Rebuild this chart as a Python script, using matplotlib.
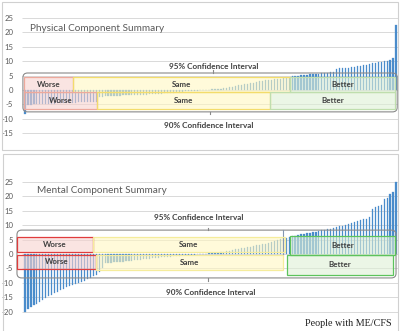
import numpy as np
import matplotlib
matplotlib.use("Agg")
import matplotlib.pyplot as plt
from matplotlib.patches import Rectangle, FancyBboxPatch

# sorted change scores, one bar per person
pcs_values = [
    -8.5,
    -5.2, -5.1, -5.0, -5.0, -4.9, -4.9, -4.8, -4.8, -4.7, -4.7, -4.6, -4.6,
    -4.5, -4.5, -4.5, -4.4, -4.4, -4.3, -4.3, -4.2, -4.2, -4.1, -4.1, -4.0,
    -2.4, -2.3, -2.2, -2.2, -2.1, -2.1, -2.0, -2.0, -1.9, -1.9, -1.8, -1.8,
    -1.8, -1.7, -1.7, -1.6, -1.6, -1.5, -1.5, -1.4, -1.4, -1.3, -1.2, -1.1,
    -1.0, -0.9, -0.8, -0.7, -0.6, -0.5, -0.4,
    -0.3, -0.2, -0.2, -0.1, -0.1, 0.1, 0.1,
    0.2, 0.3, 0.4, 0.5, 0.7, 0.8, 1.0, 1.2, 1.4, 1.6, 1.8, 2.0, 2.2, 2.4,
    2.6, 2.8, 3.0, 3.2, 3.4, 3.5,
    3.6, 3.7, 3.8, 3.9, 4.0, 4.1, 4.2,
    4.8, 4.9, 5.0, 5.1, 5.2, 5.3, 5.4, 5.5, 5.6, 5.7, 5.8, 5.9, 6.0, 6.1, 6.2,
    7.4, 7.5, 7.6, 7.7, 7.8, 7.9, 8.0, 8.2, 8.4, 8.6, 8.8, 9.0, 9.2, 9.4,
    9.6, 9.8, 10.0, 10.2, 10.5, 11.2,
    22.5,
]
mcs_values = [
    -20.0,
    -19.2, -18.5, -17.8, -17.2, -16.7, -16.0, -15.3, -14.7, -14.1, -13.6,
    -13.1, -12.6, -12.1, -11.6, -11.2, -10.8, -10.4, -10.0, -9.6, -9.2,
    -8.8, -8.4, -7.8, -7.2, -6.2, -5.0,
    -3.2, -3.1, -3.0, -2.9, -2.8, -2.7, -2.6, -2.5, -2.4, -2.3, -2.2, -2.1,
    -2.0, -1.9, -1.8, -1.7,
    -1.5, -1.4, -1.3, -1.2, -1.1, -1.0, -0.9, -0.8, -0.7, -0.6, -0.5, -0.4, -0.3,
    -0.2, -0.2, -0.1, -0.1, 0.1, 0.1, 0.2,
    0.3, 0.4, 0.5, 0.6, 0.8, 1.0, 1.2, 1.4, 1.6, 1.8, 2.0, 2.2, 2.4, 2.6,
    2.8, 3.0, 3.2, 3.4, 3.6, 3.8,
    4.2, 4.5, 4.8, 5.1, 5.4, 5.7, 6.0,
    6.2, 6.4, 6.6, 6.8, 7.0, 7.2, 7.4, 7.6, 7.8, 8.0, 8.2, 8.4, 8.6,
    8.8, 9.0, 9.3, 9.6, 9.9, 10.2, 10.5, 10.8, 11.2, 11.6,
    11.8, 12.0, 12.3, 13.0, 15.5, 16.2, 16.8, 17.0, 19.0, 19.5, 21.0, 21.5, 25.0,
]
pcs_ticks = [-15, -10, -5, 0, 5, 10, 15, 20, 25]
mcs_ticks = [-20, -15, -10, -5, 0, 5, 10, 15, 20, 25]
panel_titles = ["Physical Component Summary", "Mental Component Summary"]
ci_labels = ["95% Confidence Interval", "90% Confidence Interval"]
band_labels = ["Worse", "Same", "Better"]
footer = "People with ME/CFS"

W, H = 400, 331
FONT = "Lato"
GREY = "#595959"
BAR = "#4a8ccb"

fig = plt.figure(figsize=(W / 100, H / 100), dpi=100)
fig.patch.set_facecolor("white")


def px_axes(left, right, top, bottom):
    return fig.add_axes([left / W, 1 - bottom / H, (right - left) / W, (bottom - top) / H])


def frame(x0, y0, x1, y1):
    fig.patches.append(Rectangle((x0 / W, 1 - y1 / H), (x1 - x0) / W, (y1 - y0) / H,
                                 transform=fig.transFigure, fill=False,
                                 edgecolor="#d0d0d0", linewidth=0.8, zorder=0))


def setup(ax, values, ticks, ylim):
    x = np.arange(len(values))
    ax.set_xlim(-3.5, 126)
    ax.set_ylim(*ylim)
    ax.hlines(ticks, -1, 125.5, color="#d9d9d9", linewidth=0.7, zorder=0)
    ax.bar(x, values, width=0.42, color=BAR, edgecolor=BAR, linewidth=0.2, zorder=2)
    for s in ax.spines.values():
        s.set_visible(False)
    ax.set_xticks([])
    ax.set_yticks(ticks)
    ax.set_yticklabels([str(t) for t in ticks], fontsize=5.6, color=GREY, family=FONT)
    ax.tick_params(axis="y", length=0, pad=1)
    ax.patch.set_alpha(0)


def box(ax, x0, x1, y0, y1, face, edge, label):
    ax.add_patch(Rectangle((x0, y0), x1 - x0, y1 - y0, facecolor=face, alpha=0.6,
                           edgecolor="none", zorder=3))
    ax.add_patch(Rectangle((x0, y0), x1 - x0, y1 - y0, fill=False,
                           edgecolor=edge, linewidth=0.9, zorder=4))
    ax.text((x0 + x1) / 2, (y0 + y1) / 2, label, ha="center", va="center",
            fontsize=5.8, fontweight="bold", color="#404040", family=FONT, zorder=5)


def bracket(ax, x0, x1, y0, y1, xt, xb):
    ax.add_patch(FancyBboxPatch((x0, y0), x1 - x0, y1 - y0,
                                boxstyle="round,pad=0,rounding_size=1.6",
                                fill=False, edgecolor="#8a8a8a", linewidth=0.8, zorder=4))
    ax.plot([xt, xt], [y1, y1 + 0.9], color="#8a8a8a", linewidth=0.8, zorder=4)
    ax.plot([xb, xb], [y0, y0 - 0.9], color="#8a8a8a", linewidth=0.8, zorder=4)


FACE = {"Worse": "#f8d3cf", "Same": "#fff8c2", "Better": "#dff0d6"}

# ---- top panel: physical component summary ----
frame(2, 2, 398, 150)
ax1 = px_axes(14.6, 399, 10.8, 144.7)
setup(ax1, pcs_values, pcs_ticks, (-19, 27.5))
bracket(ax1, -0.7, 125.4, -7.6, 5.9, 63.4, 62.3)
box(ax1, -0.3, 16.2, -0.7, 4.5, FACE["Worse"], "#eda99c", band_labels[0])
box(ax1, 16.2, 89.3, -0.7, 4.5, FACE["Same"], "#f3dc6b", band_labels[1])
box(ax1, 89.3, 124.7, -0.7, 4.5, FACE["Better"], "#bfdeae", band_labels[2])
box(ax1, -0.3, 24.3, -6.6, -0.7, FACE["Worse"], "#eda99c", band_labels[0])
box(ax1, 24.3, 82.5, -6.6, -0.7, FACE["Same"], "#f3dc6b", band_labels[1])
box(ax1, 82.5, 124.7, -6.6, -0.7, FACE["Better"], "#bfdeae", band_labels[2])
ax1.text(1.7, 21.5, panel_titles[0], ha="left", va="center", fontsize=7.2,
         color=GREY, family=FONT)
ax1.text(63.7, 8.3, ci_labels[0], ha="center", va="center", fontsize=5.9,
         fontweight="bold", color="#404040", family=FONT)
ax1.text(62.0, -12.5, ci_labels[1], ha="center", va="center", fontsize=5.9,
         fontweight="bold", color="#404040", family=FONT)

# ---- bottom panel: mental component summary ----
frame(3, 154, 398, 333)
ax2 = px_axes(14.6, 399, 174.8, 317.4)
setup(ax2, mcs_values, mcs_ticks, (-22, 27.5))
bracket(ax2, -2.7, 125.0, -8.3, 8.3, 61.7, 61.7)
ax2.plot([86.9, 86.9], [-0.3, 8.3], color="#8497b0", linewidth=0.8, zorder=4)
box(ax2, -2.7, 22.9, 0.6, 5.9, FACE["Worse"], "#e03c3c", band_labels[0])
box(ax2, 22.9, 87.6, 0.6, 5.9, FACE["Same"], "#f5ec9c", band_labels[1])
box(ax2, 89.3, 124.7, -0.2, 6.4, FACE["Better"], "#5cc35c", band_labels[2])
box(ax2, -2.7, 23.9, -5.2, -0.2, FACE["Worse"], "#e03c3c", band_labels[0])
box(ax2, 23.9, 86.9, -5.4, -0.2, FACE["Same"], "#f5ec9c", band_labels[1])
box(ax2, 88.3, 124.0, -7.3, -0.2, FACE["Better"], "#5cc35c", band_labels[2])
ax2.text(4.0, 21.9, panel_titles[1], ha="left", va="center", fontsize=7.2,
         color=GREY, family=FONT)
ax2.text(58.6, 12.8, ci_labels[0], ha="center", va="center", fontsize=5.9,
         fontweight="bold", color="#404040", family=FONT)
ax2.text(62.7, -13.2, ci_labels[1], ha="center", va="center", fontsize=5.9,
         fontweight="bold", color="#404040", family=FONT)

fig.text(392 / W, 1 - 324 / H, footer, ha="right", va="center", fontsize=7.3,
         family="Liberation Serif", color="#202020")

fig.savefig("out.png", dpi=100)
